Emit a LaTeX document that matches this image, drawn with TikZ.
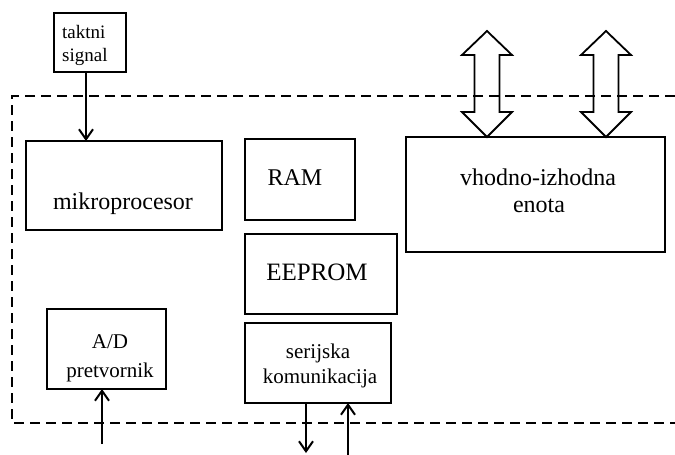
\documentclass[tikz,border=0pt]{standalone}
\usepackage{fontspec}
\setmainfont{Liberation Serif}
\usetikzlibrary{arrows.meta}
\begin{document}
\begin{tikzpicture}[x=1pt,y=-1pt,
  box/.style={draw=black,line width=2.2pt,inner sep=0pt,outer sep=0pt,fill=none},
  txt/.style={anchor=base,inner sep=0pt},
  arr/.style={line width=2pt,-{Straight Barb[length=10pt,width=14pt,line width=2pt]}},
  dbl/.style={draw=black,line width=1.8pt},
  frame/.style={line width=2.2pt,dash pattern=on 10pt off 6pt}]
\useasboundingbox (0,0) rectangle (675,455);
% dashed enclosure
\draw[frame] (675,96) -- (12,96) -- (12,423) -- (675,423);
% boxes
\node[box,minimum width=72pt,minimum height=59pt] (tak) at (90,42.5) {};
\node[box,minimum width=196pt,minimum height=89pt] (mp) at (124,185.5) {};
\node[box,minimum width=110pt,minimum height=81pt] (ram) at (300,179.5) {};
\node[box,minimum width=152pt,minimum height=80pt] (eep) at (321,274) {};
\node[box,minimum width=146pt,minimum height=80pt] (ser) at (318,363) {};
\node[box,minimum width=259pt,minimum height=115pt] (vi) at (535.5,194.5) {};
\node[box,minimum width=119pt,minimum height=80pt] (ad) at (106.5,349) {};
% texts
\node[txt,anchor=base west,font=\fontsize{19}{19}\selectfont] (t1) at (62,38) {taktni};
\node[txt,anchor=base west,font=\fontsize{19}{19}\selectfont] (t2) at (62,61) {signal};
\node[txt,font=\fontsize{24}{24}\selectfont] (tmp) at (123,209) {mikroprocesor};
\node[txt,font=\fontsize{24}{24}\selectfont] (tram) at (295,185) {RAM};
\node[txt,font=\fontsize{25}{25}\selectfont] (teep) at (317,280) {EEPROM};
\node[txt,font=\fontsize{21}{21}\selectfont] (ts1) at (318,358) {serijska};
\node[txt,font=\fontsize{21}{21}\selectfont] (ts2) at (320,383) {komunikacija};
\node[txt,font=\fontsize{24}{24}\selectfont] (tv1) at (538,185) {vhodno-izhodna};
\node[txt,font=\fontsize{24}{24}\selectfont] (tv2) at (539,212) {enota};
\node[txt,font=\fontsize{21}{21}\selectfont] (ta1) at (110,348) {A/D};
\node[txt,font=\fontsize{21}{21}\selectfont] (ta2) at (110,377) {pretvornik};
% connectors
\coordinate (adin) at (102,444);
\coordinate (sout) at (306,453);
\coordinate (sin) at (348,456);
\draw[arr] ([xshift=-4pt]tak.south) -- ([xshift=-4pt]tak.south |- mp.north);
\draw[arr] (adin) -- (adin |- ad.south);
\draw[arr] (sout |- ser.south) -- (sout);
\draw[arr] (sin) -- (sin |- ser.south);
% double arrows
\foreach \cx/\nm in {487/da1,606/da2}{
  \coordinate (\nm) at (\cx,84);
  \draw[dbl] (\cx,31) -- (\cx+25,55) -- (\cx+12.5,55) -- (\cx+12.5,112) -- (\cx+25,112)
    -- (\cx,137) -- (\cx-25,112) -- (\cx-12.5,112) -- (\cx-12.5,55) -- (\cx-25,55) -- cycle;
}
\end{tikzpicture}
\end{document}
